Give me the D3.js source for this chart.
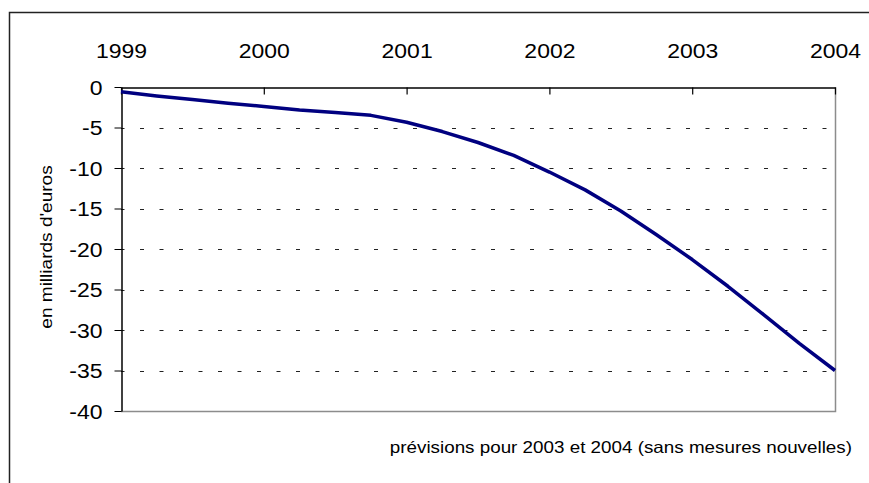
<!DOCTYPE html>
<html>
<head>
<meta charset="utf-8">
<script src="https://cdn.jsdelivr.net/npm/d3@7"></script>
<style>
  html, body { margin: 0; padding: 0; background: #fff; overflow: hidden; }
  svg { display: block; }
  text { font-family: "Liberation Sans", Arial, sans-serif; fill: #000; }
</style>
</head>
<body>
<svg id="chart" width="869" height="483"></svg>
<script>
// Solde (en milliards d'euros), données trimestrielles 1999–2004
const years = [1999, 2000, 2001, 2002, 2003, 2004];
const quarters = [
  1999, 1999.25, 1999.5, 1999.75,
  2000, 2000.25, 2000.5, 2000.75,
  2001, 2001.25, 2001.5, 2001.75,
  2002, 2002.25, 2002.5, 2002.75,
  2003, 2003.25, 2003.5, 2003.75,
  2004
];
const values = [
  -0.6, -1.1, -1.55, -2.0,
  -2.4, -2.85, -3.15, -3.5,
  -4.35, -5.5, -6.85, -8.45,
  -10.5, -12.7, -15.3, -18.25,
  -21.3, -24.6, -28.1, -31.65,
  -35.0
];
const yTicks = [0, -5, -10, -15, -20, -25, -30, -35, -40];
const yGrid = [-5, -10, -15, -20, -25, -30, -35];
const yTitle = "en milliards d'euros";
const note = "prévisions pour 2003 et 2004 (sans mesures nouvelles)";

const svg = d3.select("#chart");
const plot = { left: 121, right: 835, top: 87, bottom: 411 };

const x = d3.scaleLinear().domain([1999, 2004]).range([plot.left, plot.right]);
const y = d3.scaleLinear().domain([0, -40]).range([plot.top, plot.bottom]);

// widen text horizontally by a factor
function stretch(sel, k) {
  sel.each(function () {
    const w = this.getComputedTextLength();
    d3.select(this).attr("textLength", w * k).attr("lengthAdjust", "spacingAndGlyphs");
  });
}

// outer frame (left and top edges; the rest runs off the page)
svg.append("path")
  .attr("d", "M9.5,483V12.5H869")
  .attr("fill", "none").attr("stroke", "#222").attr("stroke-width", 1.5);

// dashed horizontal gridlines
svg.append("g").selectAll("line").data(yGrid).join("line")
  .attr("x1", plot.left).attr("x2", plot.right)
  .attr("y1", d => Math.round(y(d)) + 0.5).attr("y2", d => Math.round(y(d)) + 0.5)
  .attr("stroke", "#222").attr("stroke-width", 1)
  .attr("stroke-dasharray", "4,15.5")
  .attr("stroke-dashoffset", -19);

// grey right and bottom edges of the plot area
svg.append("path")
  .attr("d", `M${plot.right + 0.5},${plot.top}V${plot.bottom + 0.5}H${plot.left}`)
  .attr("fill", "none").attr("stroke", "#8c8c8c").attr("stroke-width", 1.5);

// top axis with years
const xAxis = d3.axisTop(x).tickValues(years).tickFormat(d => String(d))
  .tickSizeInner(-7).tickSizeOuter(0).tickPadding(30);
const gx = svg.append("g").attr("transform", `translate(0,${plot.top + 0.5})`).call(xAxis);
gx.attr("font-family", null).attr("font-size", null);
gx.select(".domain").attr("stroke", "#000").attr("stroke-width", 1.5);
gx.selectAll(".tick line").attr("stroke", "#000").attr("stroke-width", 1.2);
gx.selectAll(".tick text")
  .attr("font-size", 20.5)
  .attr("dy", 0)
  .call(stretch, 1.12);

// left axis with values
const yAxis = d3.axisLeft(y).tickValues(yTicks).tickFormat(d => String(d))
  .tickSizeInner(7).tickSizeOuter(0).tickPadding(12);
const gy = svg.append("g").attr("transform", `translate(${plot.left + 0.5},0)`).call(yAxis);
gy.attr("font-family", null).attr("font-size", null);
gy.select(".domain").attr("stroke", "#000").attr("stroke-width", 1.5);
gy.selectAll(".tick line").attr("stroke", "#000").attr("stroke-width", 1);
gy.selectAll(".tick text")
  .attr("font-size", 20.5)
  .attr("dy", "0.36em")
  .call(stretch, 1.12);

// the series
const line = d3.line().x((d, i) => x(quarters[i])).y(d => y(d));
svg.append("path")
  .datum(values)
  .attr("d", line)
  .attr("fill", "none")
  .attr("stroke", "#000080")
  .attr("stroke-width", 3.5)
  .attr("stroke-linejoin", "round");

// y axis title
svg.append("text")
  .attr("transform", `translate(52,247) rotate(-90)`)
  .attr("text-anchor", "middle")
  .attr("font-size", 17)
  .text(yTitle)
  .call(stretch, 1.12);

// footnote
svg.append("text")
  .attr("x", 852).attr("y", 453)
  .attr("text-anchor", "end")
  .attr("font-size", 16.5)
  .text(note)
  .call(stretch, 1.14);
</script>
</body>
</html>
